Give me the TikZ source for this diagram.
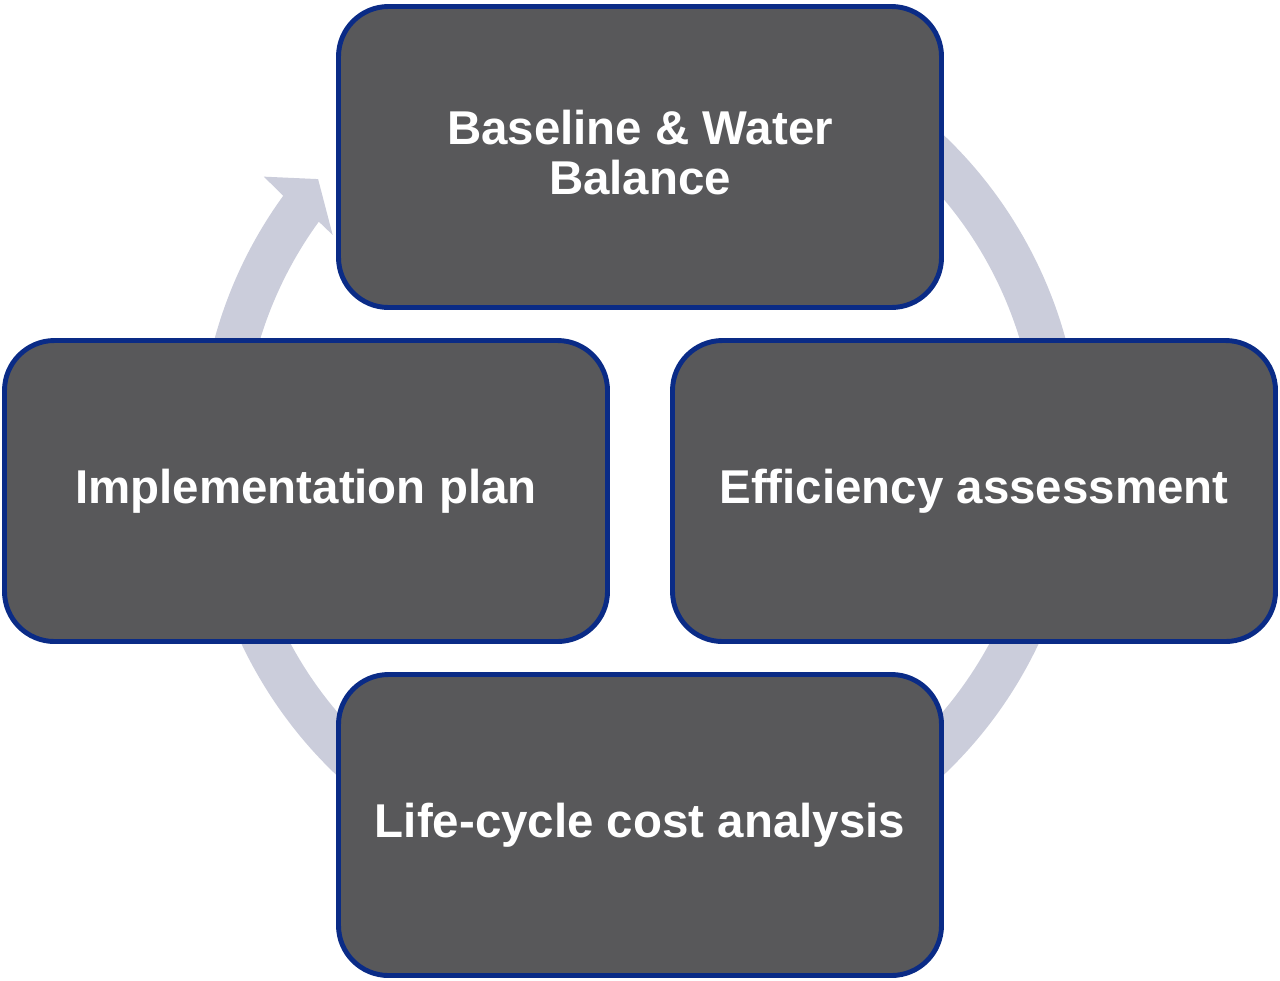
\documentclass[tikz,border=0pt]{standalone}
\usepackage{fontspec}
\setmainfont{Liberation Sans}
\usetikzlibrary{backgrounds}

\definecolor{boxgrey}{HTML}{58585A}
\definecolor{boxnavy}{HTML}{0A2B86}
\definecolor{ringgrey}{HTML}{CBCDDB}

\begin{document}
\begin{tikzpicture}[
    stage/.style={draw=boxnavy, line width=1.4pt, fill=boxgrey, rounded corners=0.5cm,
        minimum width=6.03cm, minimum height=3.01cm, align=center, text=white,
        font=\bfseries\fontsize{13.5}{14.2}\selectfont}
]
    \useasboundingbox (0,0) rectangle (12.8,9.8);

    % Stages of the cycle
    \node[stage] (baseline) at (6.40,8.23) {Baseline \& Water\\Balance\vphantom{g}};
    \node[stage] (efficiency) at (9.74,4.89) {Efficiency assessment};
    \node[stage] (lcca) at (6.40,1.55) {Life-cycle cost analysis};
    \node[stage] (plan) at (3.06,4.89) {Implementation plan};

    % Cycle arrow behind the stages
    \begin{scope}[on background layer, shift={(6.40,5.25)}]
        \fill[ringgrey] (120:4.41) arc[start angle=120, end angle=-216, radius=4.41]
            -- (-216.5:4.68) -- (-220.6:4.24) -- (-215.6:3.78) -- (-216:3.97)
            arc[start angle=-216, end angle=120, radius=3.97] -- cycle;
    \end{scope}
\end{tikzpicture}
\end{document}
